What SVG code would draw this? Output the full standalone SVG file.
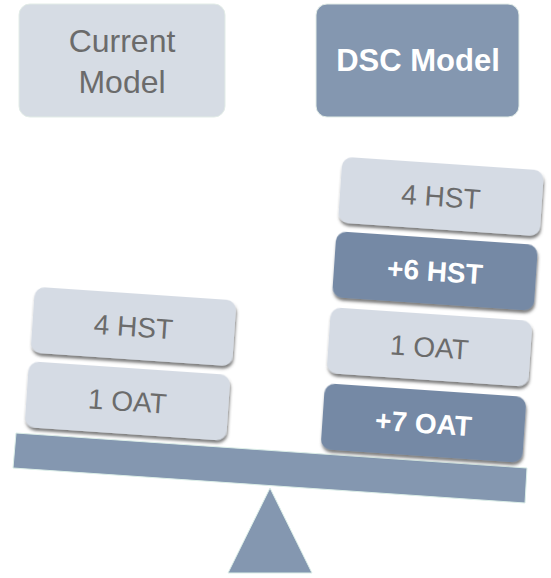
<svg xmlns="http://www.w3.org/2000/svg" width="551" height="578" viewBox="0 0 551 578">
  <style>
    .light { fill: #D5DBE4; }
    .dark { fill: #7489A5; }
    .block { filter: url(#shadow); }
    .reg { font-family: "Liberation Sans", Arial, sans-serif; font-size: 28px; fill: #6B6B6B; text-anchor: middle; }
    .bold { font-family: "Liberation Sans", Arial, sans-serif; font-size: 28px; font-weight: bold; fill: #FFFFFF; text-anchor: middle; }
    .base { fill: #8497B0; stroke: #DCEEE8; stroke-width: 1; }
  </style>
  <defs>
    <filter id="shadow" x="-10%" y="-20%" width="120%" height="150%">
      <feDropShadow dx="1" dy="3" stdDeviation="1.8" flood-color="#3a3a3a" flood-opacity="0.65"/>
    </filter>
  </defs>
  <rect width="551" height="578" fill="#FFFFFF"/>

  <g id="current-model">
    <rect x="19" y="4" width="206" height="113" rx="11" fill="#D6DCE4" stroke="#E2ECE7" stroke-width="1"/>
    <text x="122" y="52" font-family="Liberation Sans, Arial, sans-serif" font-size="32" fill="#6B6B6B" text-anchor="middle">Current</text>
    <text x="122" y="93" font-family="Liberation Sans, Arial, sans-serif" font-size="32" fill="#6B6B6B" text-anchor="middle">Model</text>
  </g>

  <g id="dsc-model">
    <rect x="316" y="4" width="203" height="113" rx="11" fill="#8497B0" stroke="#E2ECE7" stroke-width="1"/>
    <text x="418" y="71" font-family="Liberation Sans, Arial, sans-serif" font-size="31" font-weight="bold" fill="#FFFFFF" text-anchor="middle">DSC Model</text>
  </g>

  <g id="beam">
    <polygon class="base" points="16,433 527,468 525,503 13,468"/>
  </g>
  <g id="fulcrum">
    <polygon class="base" points="270,488 312,573 228,573"/>
  </g>

  <g id="left-1-oat" transform="translate(127.5,401) rotate(3.9)">
    <rect class="light block" x="-101" y="-33" width="202" height="66" rx="10"/>
    <text class="reg" x="0" y="10">1 OAT</text>
  </g>
  <g id="left-4-hst" transform="translate(133.5,326.5) rotate(3.9)">
    <rect class="light block" x="-101" y="-33" width="202" height="66" rx="10"/>
    <text class="reg" x="0" y="10">4 HST</text>
  </g>

  <g id="right-plus7-oat" transform="translate(423.5,423) rotate(3.9)">
    <rect class="dark block" x="-101" y="-33" width="202" height="66" rx="10"/>
    <text class="bold" x="0" y="10">+7 OAT</text>
  </g>
  <g id="right-1-oat" transform="translate(429.5,347) rotate(3.9)">
    <rect class="light block" x="-101" y="-33" width="202" height="66" rx="10"/>
    <text class="reg" x="0" y="10">1 OAT</text>
  </g>
  <g id="right-plus6-hst" transform="translate(435,271) rotate(3.9)">
    <rect class="dark block" x="-101" y="-33" width="202" height="66" rx="10"/>
    <text class="bold" x="0" y="10">+6 HST</text>
  </g>
  <g id="right-4-hst" transform="translate(441,196.5) rotate(3.9)">
    <rect class="light block" x="-101" y="-33" width="202" height="66" rx="10"/>
    <text class="reg" x="0" y="10">4 HST</text>
  </g>

  <g id="connectors"></g>
</svg>
